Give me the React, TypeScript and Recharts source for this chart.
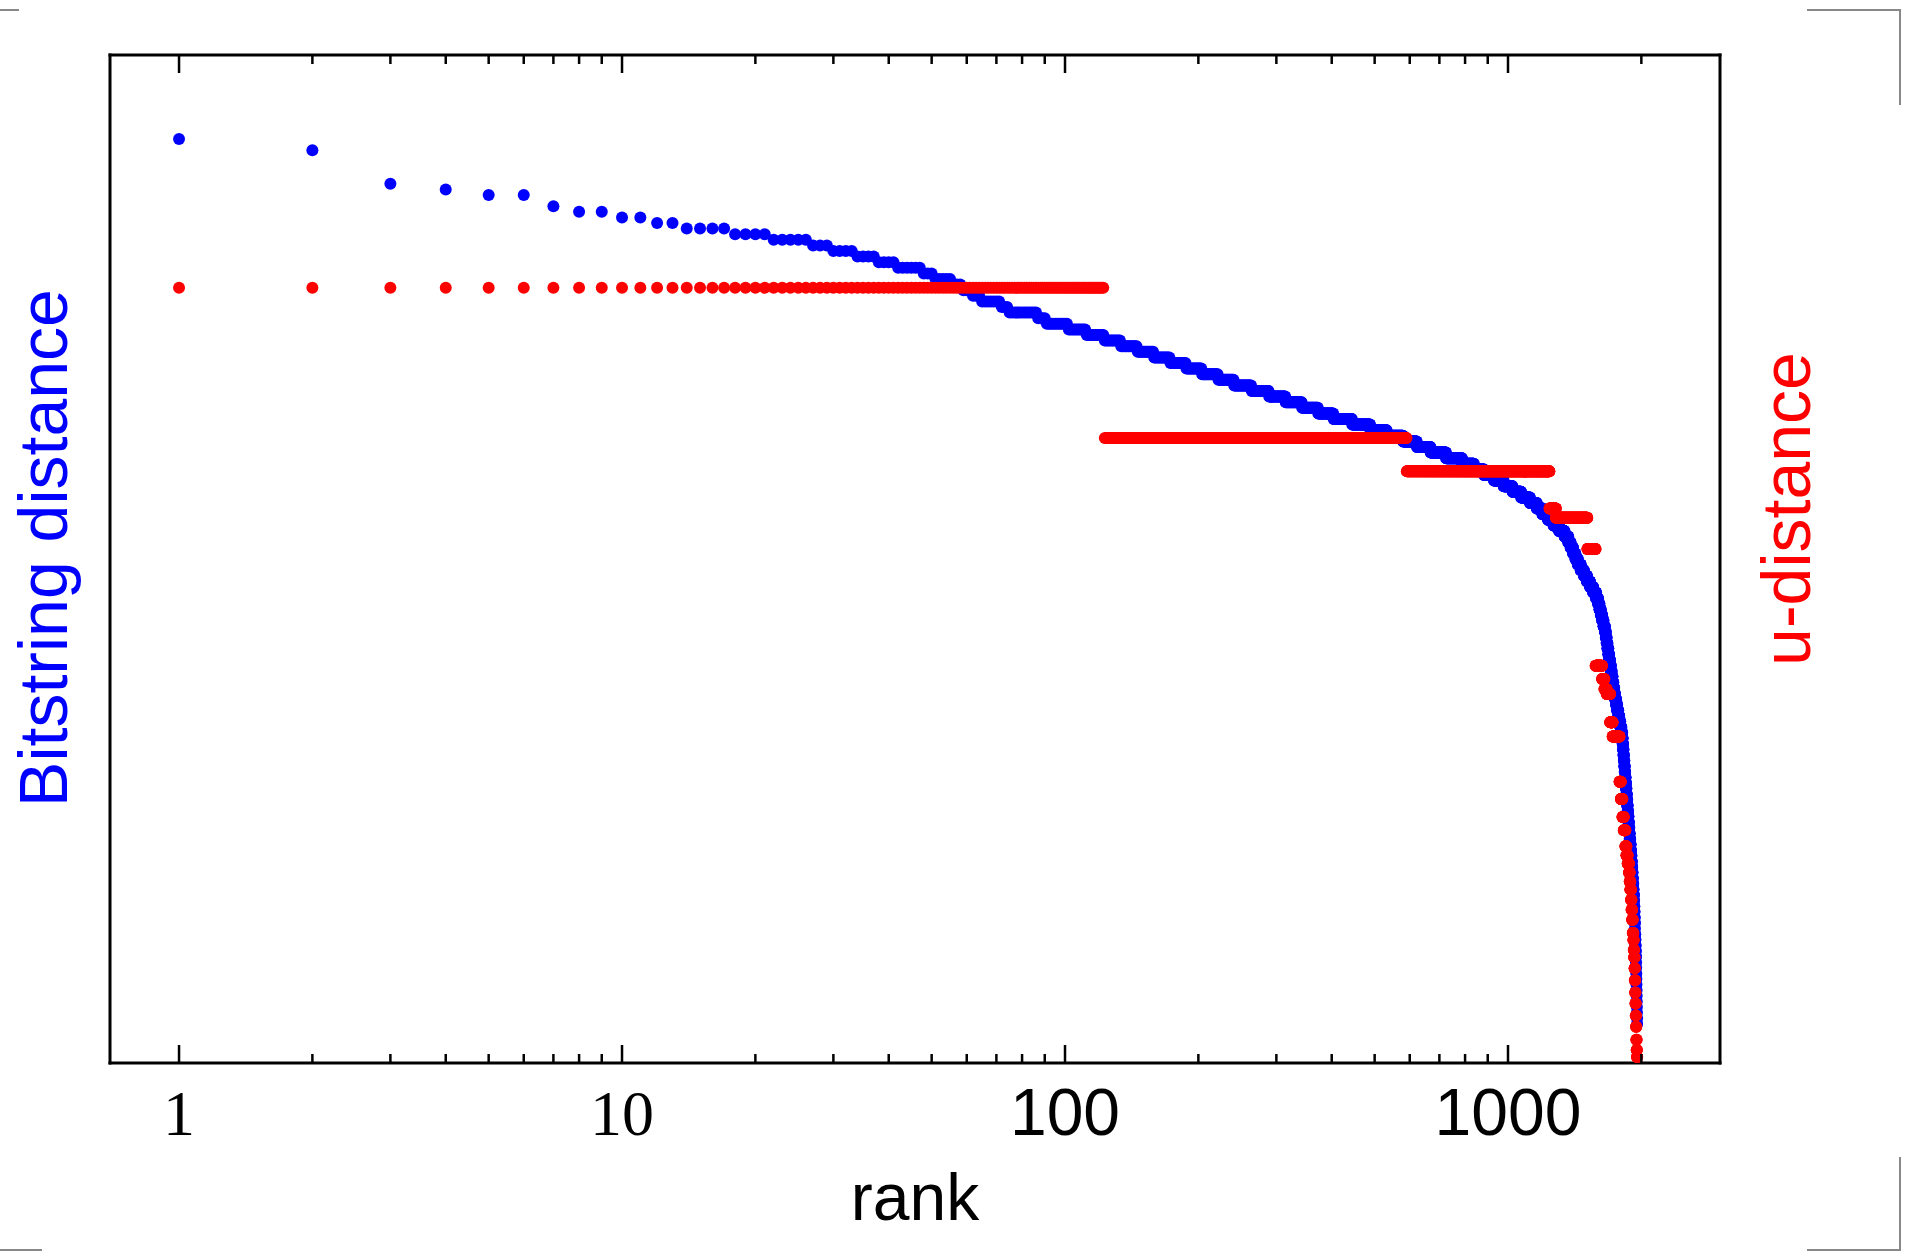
import React from 'react';
import { ScatterChart, Scatter, XAxis, YAxis } from 'recharts';

const W = 1906;
const H = 1252;

// ---- x axis (rank, log scale) ----
const majorTicks = [1, 10, 100, 1000];
const minorTicks = [2, 3, 4, 5, 6, 7, 8, 9, 20, 30, 40, 50, 60, 70, 80, 90, 200, 300, 400, 500, 600, 700, 800, 900, 2000];
const xTicks = [...majorTicks, ...minorTicks].sort((a, b) => a - b);
const xDomain: [number, number] = [0.6985, 3010];

// ---- blue: Bitstring distance (sorted). Run-length encoded: value and last rank having it ----
const blueValues = [
  165, 163, 157, 156, 155, 153, 152, 151, 150, 149, 148, 147, 146, 145, 144, 143, 142, 141, 140, 139,
  138, 137, 136, 135, 134, 133, 132, 131, 130, 129, 128, 127, 126, 125, 124, 123, 122, 121, 120, 119,
  118, 117, 116, 115, 114, 113, 112, 111, 110, 109, 108, 107, 106, 105, 104, 103, 102, 101, 100, 99,
  98, 97, 96, 95, 94, 93, 92, 91, 90, 89, 88, 87, 86, 85, 84, 83, 82, 81, 80, 79,
  78, 77, 76, 75, 74, 73, 72, 71, 70, 69, 68, 67, 66, 65, 64, 63, 62, 61, 60, 59,
  58, 57, 56, 55, 54, 53, 52, 51, 50, 49, 48, 47, 46, 45, 44, 43, 42, 41, 40, 39,
  38, 37, 36, 35, 34, 33, 32, 31, 30, 29, 28, 27, 26, 25, 24, 23, 22, 21, 20, 19,
  18, 17, 16, 15, 14, 13, 12, 11, 10, 9, 8, 7,
];
const blueLastRank = [
  1, 2, 3, 4, 6, 7, 9, 11, 13, 17, 21, 26, 29, 33, 37, 41, 47, 50, 55, 58,
  61, 64, 71, 74, 86, 90, 101, 111, 122, 133, 145, 158, 172, 187, 203, 221, 240, 263, 288, 314,
  342, 372, 403, 444, 488, 532, 579, 622, 668, 724, 787, 837, 882, 929, 977, 1023, 1070, 1120, 1161, 1195,
  1230, 1266, 1303, 1341, 1367, 1384, 1402, 1419, 1437, 1459, 1483, 1507, 1531, 1556, 1580, 1596, 1608, 1619, 1631, 1642,
  1654, 1662, 1669, 1676, 1684, 1691, 1698, 1706, 1713, 1721, 1728, 1736, 1743, 1753, 1763, 1773, 1782, 1792, 1802, 1810,
  1814, 1818, 1822, 1826, 1830, 1834, 1838, 1842, 1846, 1850, 1854, 1858, 1862, 1866, 1870, 1874, 1878, 1882, 1887, 1891,
  1895, 1899, 1903, 1907, 1910, 1913, 1917, 1920, 1924, 1926, 1928, 1930, 1932, 1934, 1935, 1937, 1939, 1941, 1943, 1945,
  1946, 1947, 1948, 1949, 1950, 1951, 1952, 1953, 1954, 1955, 1956, 1957,
];

// ---- red: u-distance (sorted). Run-length encoded: value and last rank having it ----
const redValues = [
  76.9, 62.0, 58.7, 55.0, 54.1, 51.0, 39.4, 38.1, 37.1, 36.6, 33.8, 32.4, 27.9, 26.2, 24.4, 23.1,
  21.5, 20.6, 19.8, 18.9, 18.0, 17.2, 16.2, 15.2, 14.2, 12.9, 12.2, 11.2, 10.5, 9.4, 8.2, 7.0,
  5.9, 4.7, 3.6, 2.3, 1.3, 0.6,
];
const redLastRank = [
  122, 590, 1240, 1282, 1510, 1576, 1630, 1650, 1670, 1700, 1722, 1785, 1797, 1812, 1825, 1840,
  1850, 1862, 1875, 1882, 1888, 1895, 1900, 1906, 1912, 1918, 1922, 1926, 1930, 1933, 1936, 1939,
  1942, 1945, 1948, 1951, 1954, 1957,
];

function expandRuns(values: number[], lastRanks: number[]) {
  const pts: { x: number; y: number }[] = [];
  let r = 1;
  values.forEach((v, i) => {
    for (; r <= lastRanks[i]; r++) pts.push({ x: r, y: v });
  });
  return pts;
}

const blueData = expandRuns(blueValues, blueLastRank);
const redData = expandRuns(redValues, redLastRank);

const SANS = '"Liberation Sans", Arial, Helvetica, sans-serif';
const SERIF = '"Liberation Serif", "Times New Roman", serif';

const BottomTick = (props: any) => {
  const { x, y, payload } = props;
  const v = payload.value;
  const major = majorTicks.includes(v);
  const len = major ? 18 : 9;
  return (
    <g>
      <line x1={x} x2={x} y1={y} y2={y - len} stroke="#000" strokeWidth={2.5} />
      {major && (
        <text
          x={x}
          y={y + 72}
          textAnchor="middle"
          fontFamily={v < 100 ? SERIF : SANS}
          fontSize={v < 100 ? 64 : 66}
          fill="#000"
        >
          {String(v)}
        </text>
      )}
    </g>
  );
};

const TopTick = (props: any) => {
  const { x, y, payload } = props;
  const v = payload.value;
  const len = majorTicks.includes(v) ? 18 : 9;
  return <line x1={x} x2={x} y1={y} y2={y + len} stroke="#000" strokeWidth={2.5} />;
};

const dot = (color: string) => (props: any) => (
  <circle cx={props.cx} cy={props.cy} r={6} fill={color} />
);

const axisLineStyle = { stroke: '#000', strokeWidth: 3, strokeLinecap: 'square' as const };

export default function App() {
  return (
    <div style={{ position: 'absolute', left: 0, top: 0, width: W, height: H, background: '#fff' }}>
      <ScatterChart width={W} height={H} margin={{ top: 54, right: 185, bottom: 0, left: 109 }}>
        <XAxis
          xAxisId="b"
          dataKey="x"
          type="number"
          scale="log"
          domain={xDomain}
          allowDataOverflow
          ticks={xTicks}
          interval={0}
          height={189}
          tickSize={0}
          tickMargin={0}
          tickLine={false}
          tick={BottomTick}
          axisLine={axisLineStyle}
          label={{
            content: (p: any) => {
              const vb = p.viewBox || {};
              return (
                <text x={vb.x + vb.width / 2} y={1220} textAnchor="middle" fontFamily={SANS} fontSize={66} fill="#000">
                  rank
                </text>
              );
            },
          }}
        />
        <XAxis
          xAxisId="t"
          orientation="top"
          dataKey="x"
          type="number"
          scale="log"
          domain={xDomain}
          allowDataOverflow
          ticks={xTicks}
          interval={0}
          height={1}
          tickSize={0}
          tickMargin={0}
          tickLine={false}
          tick={TopTick}
          axisLine={axisLineStyle}
        />
        <YAxis
          yAxisId="left"
          dataKey="y"
          type="number"
          domain={[0, 180]}
          allowDataOverflow
          width={1}
          tick={false}
          tickLine={false}
          axisLine={axisLineStyle}
          label={{
            content: () => (
              <text
                x={67}
                y={548}
                transform="rotate(-90, 67, 548)"
                textAnchor="middle"
                fontFamily={SANS}
                fontSize={68}
                fill="#0000ff"
              >
                Bitstring distance
              </text>
            ),
          }}
        />
        <YAxis
          yAxisId="right"
          orientation="right"
          dataKey="y"
          type="number"
          domain={[0, 100]}
          allowDataOverflow
          width={1}
          tick={false}
          tickLine={false}
          axisLine={axisLineStyle}
          label={{
            content: () => (
              <text
                x={1810}
                y={509}
                transform="rotate(-90, 1810, 509)"
                textAnchor="middle"
                fontFamily={SANS}
                fontSize={68}
                fill="#ff0000"
              >
                u-distance
              </text>
            ),
          }}
        />
        <Scatter
          name="Bitstring distance"
          data={blueData}
          xAxisId="b"
          yAxisId="left"
          fill="#0000ff"
          shape={dot('#0000ff')}
          isAnimationActive={false}
        />
        <Scatter
          name="u-distance"
          data={redData}
          xAxisId="b"
          yAxisId="right"
          fill="#ff0000"
          shape={dot('#ff0000')}
          isAnimationActive={false}
        />
      </ScatterChart>
      <svg
        width={W}
        height={H}
        style={{ position: 'absolute', left: 0, top: 0, pointerEvents: 'none' }}
      >
        <g stroke="#888" strokeWidth={2} fill="none">
          <polyline points="0,10 19,10" />
          <polyline points="0,1250 42,1250" />
          <polyline points="1807,10 1900,10 1900,105" />
          <polyline points="1900,1157 1900,1250 1807,1250" />
        </g>
      </svg>
    </div>
  );
}
